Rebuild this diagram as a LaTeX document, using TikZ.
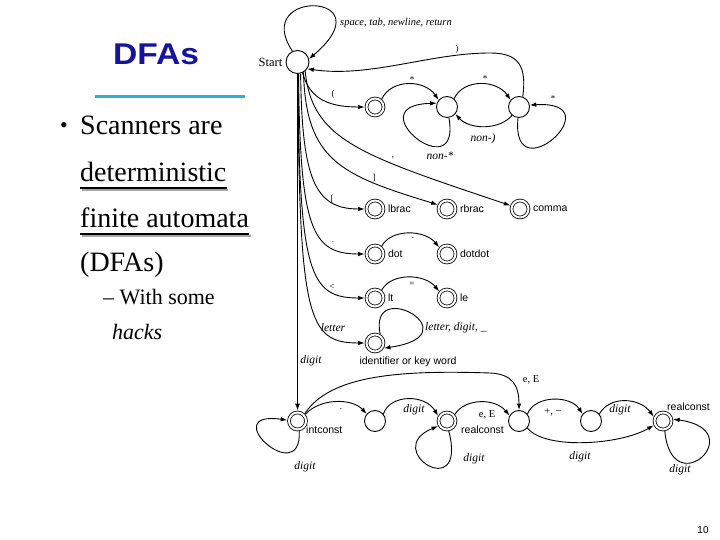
\documentclass[tikz,border=0pt]{standalone}
\usepackage{fontspec}
\setmainfont{Liberation Serif}
\setsansfont{Liberation Sans}
\usetikzlibrary{arrows.meta, positioning}
\definecolor{titleblue}{RGB}{20,20,160}
\definecolor{rulecyan}{RGB}{45,175,220}

\begin{document}
\begin{tikzpicture}[x=1pt, y=1pt,
  state/.style={circle, draw, line width=0.9pt, minimum size=21pt, inner sep=0pt},
  accept/.style={circle, draw, line width=0.8pt, double, double distance=2pt,
    minimum size=17pt, inner sep=0pt, outer sep=1.8pt},
  trans/.style={line width=0.9pt, -{Latex[length=6.5pt,width=4.5pt]}},
  sym/.style={font=\fontsize{9}{10}\selectfont, inner sep=0pt},
  ital/.style={font=\fontsize{11.5}{13}\selectfont\itshape, inner sep=0pt},
  sname/.style={font=\sffamily\fontsize{10.5}{12}\selectfont, inner sep=0pt},
  bodytext/.style={font=\fontsize{28}{32}\selectfont, inner sep=0pt, anchor=base west},
  subtext/.style={font=\fontsize{22}{26}\selectfont, inner sep=0pt, anchor=base west},
  uline/.style={line width=1.4pt}
]
  \useasboundingbox (0,0) rectangle (720,540);
  % ---- titel en tekst ----
  \node[anchor=base west, inner sep=0pt, text=titleblue,
    font=\sffamily\bfseries\fontsize{30}{34}\selectfont] (title) at (113,475)
    {\scalebox{1.12}[1]{DFAs}};
  \draw[rulecyan, line width=3pt] (95,443) -- (245,443);
  \node[inner sep=0pt, font=\fontsize{22}{24}\selectfont] (bullet) at (64,412.5) {\textbullet};
  \node[bodytext] (scan) at (80,405) {Scanners are};
  \node[bodytext] (det) at (80,358) {deterministic};
  \node[bodytext] (fin) at (80,312) {finite automata};
  \node[bodytext] (abbr) at (80,268) {(DFAs)};
  \node[subtext] (with) at (103,235) {\textendash{} With some};
  \node[subtext] (hacks) at (112,200) {\itshape hacks};
  \draw[uline, black!35] ([shift={(1.5pt,-8pt)}]det.base west) -- ([shift={(1.5pt,-8pt)}]det.base east);
  \draw[uline] ([yshift=-6pt]det.base west) -- ([yshift=-6pt]det.base east);
  \draw[uline, black!35] ([shift={(1.5pt,-8pt)}]fin.base west) -- ([shift={(1.5pt,-8pt)}]fin.base east);
  \draw[uline] ([yshift=-6pt]fin.base west) -- ([yshift=-6pt]fin.base east);
  \node[font=\sffamily\fontsize{10}{12}\selectfont, inner sep=0pt] (pagenum) at (703,10) {10};

  % ---- toestanden ----
  \node[state, minimum size=23pt] (start) at (297.5,478) {};
  \node[accept] (lpar) at (375,433) {};
  \node[state] (incom) at (447,433) {};
  \node[state] (star) at (519,433) {};
  \node[accept] (lbrac) at (375,331) {};
  \node[accept] (rbrac) at (447,331) {};
  \node[accept] (comma) at (520,331) {};
  \node[accept] (dot) at (375,286) {};
  \node[accept] (dotdot) at (447,286) {};
  \node[accept] (lt) at (375,242) {};
  \node[accept] (le) at (447,242) {};
  \node[accept] (ident) at (375,197) {};
  \node[accept] (intc) at (297.5,119) {};
  \node[state] (frac) at (375,119) {};
  \node[accept] (realc) at (447,119) {};
  \node[state] (expo) at (519,119) {};
  \node[state] (sign) at (591,119) {};
  \node[accept] (realx) at (663,119) {};

  % namen
  \node[font=\fontsize{12.5}{14}\selectfont, inner sep=0pt, left=3pt of start] (startname) {Start};
  \node[sname, right=2.5pt of lbrac] (lbracname) {lbrac};
  \node[sname, right=2.5pt of rbrac] (rbracname) {rbrac};
  \node[sname, right=2.5pt of comma] (commaname) {comma};
  \node[sname, right=2.5pt of dot] (dotname) {dot};
  \node[sname, right=2.5pt of dotdot] (dotdotname) {dotdot};
  \node[sname, right=2.5pt of lt] (ltname) {lt};
  \node[sname, right=2.5pt of le] (lename) {le};
  \node[sname] (identname) at (408,178) {identifier or key word};
  \node[sname, anchor=west] (intcname) at (306,110) {intconst};
  \node[sname, anchor=west] (realcname) at (461,110) {realconst};
  \node[sname, anchor=west] (realxname) at (667,133) {realconst};

  % ---- witruimte en commentaar ----
  \draw[trans] (start.115) .. controls (250,552) and (388,548) .. (start.15);
  \node[font=\fontsize{10.5}{12}\selectfont\itshape, inner sep=0pt, anchor=west] (wslab) at (340,517)
    {space, tab, newline, return};
  \draw[trans] (start.-65) .. controls (310,440) and (330,433) .. (lpar.west);
  \node[sym] (lparlab) at (333,446) {(};
  \draw[trans] (lpar.50) .. controls (392,462) and (425,460) .. (incom.140);
  \node[sym] (s1lab) at (412,460) {*};
  \draw[trans] (incom.50) .. controls (464,462) and (497,460) .. (star.140);
  \node[sym] (s2lab) at (485,461) {*};
  \draw[trans] (star.-130) .. controls (500,410) and (470,410) .. (incom.-40);
  \node[ital] (nrlab) at (483,401) {non-)};
  \draw[trans] (incom.-80) .. controls (462,350) and (355,435) .. (incom.160);
  \node[ital] (nslab) at (440,384) {non-*};
  \draw[trans] (star.-95) .. controls (510,345) and (615,440) .. (star.10);
  \node[sym] (s3lab) at (553,441) {*};
  \draw[trans] (star.70) .. controls (527,475) and (518,487) .. (490,487)
    .. controls (430,487) and (370,462) .. (start.-35);
  \node[sym] (rplab) at (457,491) {)};

  % ---- haken, punten, kleiner-dan ----
  \draw[trans] (start.-75) .. controls (302,360) and (315,331) .. (lbrac.west);
  \node[sym] (lblab) at (332,341) {[};
  \draw[trans] (start.-60) .. controls (306,380) and (340,365) .. (rbrac.155);
  \node[sym] (rblab) at (374,362) {]};
  \draw[trans] (start.-50) .. controls (312,400) and (360,385) .. (comma.160);
  \node[sym] (cmlab) at (393,382) {,};
  \draw[trans] (start.-85) .. controls (300,310) and (312,286) .. (dot.west);
  \node[sym] (dtlab) at (333,298) {.};
  \draw[trans] (dot.50) .. controls (392,312) and (425,310) .. (dotdot.140);
  \node[sym] (ddlab) at (413,302) {.};
  \draw[trans] (start.-88) .. controls (299,265) and (310,242) .. (lt.west);
  \node[sym] (ltlab) at (332,253) {<};
  \draw[trans] (lt.50) .. controls (392,268) and (425,266) .. (le.140);
  \node[sym] (lelab) at (412,256) {=};
  \draw[trans] (start.-88) .. controls (299,220) and (308,197) .. (ident.west);
  \node[ital] (letlab) at (333,212) {letter};
  \draw[trans] (ident.60) .. controls (368,265) and (475,205) .. (ident.-30);
  \node[ital, anchor=west] (ldlab) at (425,212) {letter, digit, \_};

  % ---- getallen ----
  \draw[line width=1.8pt, -{Latex[length=7pt,width=5pt]}] (start) -- (intc);
  \node[ital] (dglab) at (311,179) {digit};
  \draw[trans] (intc.-80) .. controls (302,50) and (215,130) .. (intc.175);
  \node[ital] (d1lab) at (305,73) {digit};
  \draw[trans] (intc.40) .. controls (320,142) and (352,142) .. (frac.140);
  \node[sym] (ptlab) at (341,131) {.};
  \draw[trans] (frac.40) .. controls (390,146) and (425,146) .. (realc.150);
  \node[ital] (d2lab) at (414,130) {digit};
  \draw[trans] (realc.-80) .. controls (468,35) and (380,90) .. (realc.-150);
  \node[ital] (d3lab) at (474,81) {digit};
  \draw[trans] (realc.40) .. controls (465,142) and (495,142) .. (expo.150);
  \node[font=\fontsize{10.5}{12}\selectfont, inner sep=0pt] (e1lab) at (487,125) {e, E};
  \draw[trans] (intc.45) .. controls (330,165) and (400,170) .. (490,167)
    .. controls (512,166) and (519,155) .. (expo.north);
  \node[font=\fontsize{10.5}{12}\selectfont, inner sep=0pt] (e2lab) at (531,160) {e, E};
  \draw[trans] (expo.40) .. controls (535,145) and (570,145) .. (sign.140);
  \node[font=\fontsize{10.5}{12}\selectfont, inner sep=0pt] (pmlab) at (553,128) {+, \textminus};
  \draw[trans] (sign.40) .. controls (610,145) and (640,142) .. (realx.155);
  \node[ital] (d4lab) at (620,130) {digit};
  \draw[trans] (expo.-40) .. controls (545,90) and (620,95) .. (realx.-155);
  \node[ital] (d5lab) at (580,83) {digit};
  \draw[trans] (realx.-80) .. controls (672,35) and (752,110) .. (realx.10);
  \node[ital] (d6lab) at (680,70) {digit};
\end{tikzpicture}
\end{document}
